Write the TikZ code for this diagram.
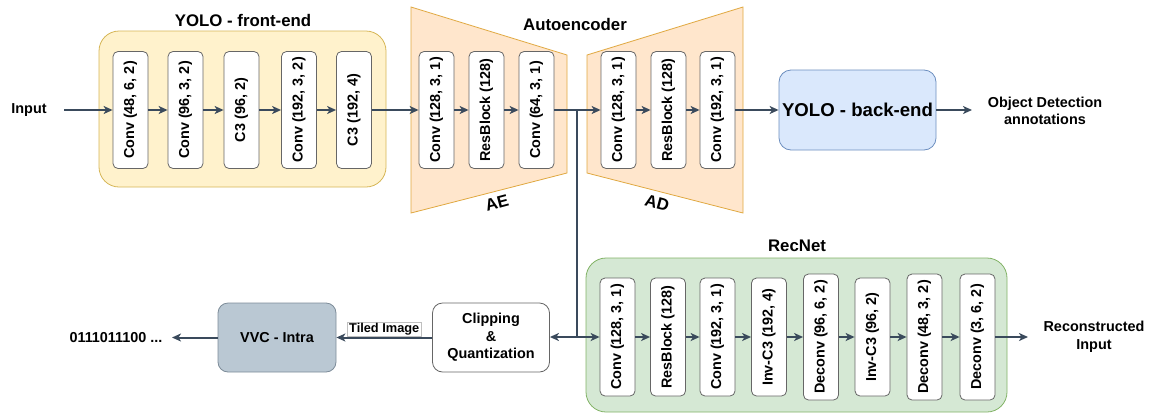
\documentclass[tikz,border=0pt]{standalone}
\usepackage{fontspec}
\usepackage{graphicx}
\setmainfont{Liberation Sans}
\usetikzlibrary{arrows.meta}

\definecolor{lineC}{HTML}{3A4A5C}
\definecolor{blkBorder}{HTML}{666666}
\definecolor{feFill}{HTML}{FFF2CC}
\definecolor{feDraw}{HTML}{D6B656}
\definecolor{aeFill}{HTML}{FFE6CC}
\definecolor{aeDraw}{HTML}{E0A840}
\definecolor{rnFill}{HTML}{D5E8D4}
\definecolor{rnDraw}{HTML}{82B366}
\definecolor{beFill}{HTML}{DAE8FC}
\definecolor{beDraw}{HTML}{6C8EBF}
\definecolor{vvcFill}{HTML}{BAC8D3}
\definecolor{vvcDraw}{HTML}{7D8C99}

\tikzset{
  blk/.style={draw=blkBorder, line width=0.8pt, fill=white, rounded corners=5pt,
    minimum width=35pt, minimum height=117pt, inner sep=0pt,
    font=\bfseries\fontsize{14.4}{17}\selectfont},
  tallblk/.style={blk, minimum height=126pt},
  lbl/.style={font=\bfseries\fontsize{14.4}{17.5}\selectfont, align=center, inner sep=0pt},
  ttl/.style={font=\bfseries\fontsize{16.8}{20}\selectfont, inner sep=0pt},
  group/.style={line width=0.8pt, rounded corners=20pt},
  flow/.style={draw=lineC, line width=2pt, -{Stealth[length=9pt,width=8pt,inset=2.5pt]}},
  twoway/.style={draw=lineC, line width=2pt, {Stealth[length=9pt,width=8pt,inset=2.5pt]}-{Stealth[length=9pt,width=8pt,inset=2.5pt]}},
  wire/.style={draw=lineC, line width=2pt},
  procbox/.style={line width=0.8pt, rounded corners=10pt, minimum width=117pt,
    minimum height=69pt, align=center, inner sep=0pt,
    font=\bfseries\fontsize{14.4}{17.5}\selectfont},
}

\begin{document}
\begin{tikzpicture}[x=1pt, y=-1pt]
\useasboundingbox (0,0) rectangle (1151,413);

% ---------- group backgrounds ----------
\draw[group, fill=feFill, draw=feDraw] (99,31) rectangle (386,187);
\draw[group, fill=rnFill, draw=rnDraw] (586,258) rectangle (1007,412);
\draw[fill=aeFill, draw=aeDraw, line width=0.8pt] (411,7) -- (567,55) -- (567,173) -- (411,213) -- cycle;
\draw[fill=aeFill, draw=aeDraw, line width=0.8pt] (587,55) -- (743,7) -- (743,213) -- (587,173) -- cycle;

% ---------- titles ----------
\node[ttl] (tfe) at (243,20) {YOLO - front-end};
\node[ttl] (tae) at (575,24) {Autoencoder};
\node[ttl] (trn) at (797,246) {RecNet};
\node[ttl, rotate=15] (lae) at (497,203) {AE};
\node[ttl, rotate=-15] (lad) at (657,203) {AD};

% ---------- YOLO front-end ----------
\node[blk] (f1) at (130.5,110) {\rotatebox{90}{Conv (48, 6, 2)}};
\node[blk] (f2) at (185.5,110) {\rotatebox{90}{Conv (96, 3, 2)}};
\node[blk] (f3) at (241.5,110) {\rotatebox{90}{C3 (96, 2)}};
\node[blk] (f4) at (299,110) {\rotatebox{90}{Conv (192, 3, 2)}};
\node[blk] (f5) at (354,110) {\rotatebox{90}{C3 (192, 4)}};

% ---------- autoencoder ----------
\node[blk] (e1) at (436.5,110) {\rotatebox{90}{Conv (128, 3, 1)}};
\node[blk] (e2) at (486.5,110) {\rotatebox{90}{ResBlock (128)}};
\node[blk] (e3) at (536.5,110) {\rotatebox{90}{Conv (64, 3, 1)}};
\node[blk] (d1) at (618.5,110) {\rotatebox{90}{Conv (128, 3, 1)}};
\node[blk] (d2) at (668.5,110) {\rotatebox{90}{ResBlock (128)}};
\node[blk] (d3) at (717.5,110) {\rotatebox{90}{Conv (192, 3, 1)}};

% ---------- YOLO back-end ----------
\node[draw=beDraw, fill=beFill, line width=0.8pt, rounded corners=12pt,
      minimum width=157pt, minimum height=80pt, inner sep=0pt,
      font=\bfseries\fontsize{18.6}{22}\selectfont] (be) at (857.5,110) {YOLO - back-end};
\node[lbl] (od) at (1045,111) {Object Detection\\annotations};

% ---------- RecNet ----------
\node[blk, minimum height=118pt] (r1) at (617.5,337) {\rotatebox{90}{Conv (128, 3, 1)}};
\node[blk, minimum height=118pt] (r2) at (668,337) {\rotatebox{90}{ResBlock (128)}};
\node[blk, minimum height=118pt] (r3) at (717.5,337) {\rotatebox{90}{Conv (192, 3, 1)}};
\node[blk, minimum height=118pt] (r4) at (769,337) {\rotatebox{90}{Inv-C3 (192, 4)}};
\node[tallblk] (r5) at (821,337) {\rotatebox{90}{Deconv (96, 6, 2)}};
\node[blk, minimum height=118pt] (r6) at (872.5,337) {\rotatebox{90}{Inv-C3 (96, 2)}};
\node[tallblk] (r7) at (924.5,337) {\rotatebox{90}{Deconv (48, 3, 2)}};
\node[tallblk] (r8) at (977.5,337) {\rotatebox{90}{Deconv (3, 6, 2)}};
\node[lbl] (rin) at (1094,337) {Reconstructed\\Input};

% ---------- coding chain ----------
\node[procbox, draw=blkBorder, fill=white] (cq) at (491,337.5) {Clipping\\\&\\Quantization};
\node[procbox, draw=vvcDraw, fill=vvcFill, minimum width=118pt] (vvc) at (277,337.5) {VVC - Intra};
\node[lbl] (bits) at (116,338) {0111011100 ...};
\node[lbl] (inp) at (29,110) {Input};

% ---------- free ends and junctions ----------
\coordinate (inS) at (64,110);
\coordinate (odE) at (972,110);
\coordinate (rinE) at (1028,337);
\coordinate (bitsE) at (172,337.5);
\coordinate (j1) at (577,110);
\coordinate (j2) at (577,337);

% ---------- connectors ----------
\draw[flow] (inS) -- (f1.west);
\draw[flow] (f1) -- (f2);
\draw[flow] (f2) -- (f3);
\draw[flow] (f3) -- (f4);
\draw[flow] (f4) -- (f5);
\draw[flow] (f5) -- (e1);
\draw[flow] (e1) -- (e2);
\draw[flow] (e2) -- (e3);
\draw[flow] (e3) -- (d1);
\draw[flow] (d1) -- (d2);
\draw[flow] (d2) -- (d3);
\draw[flow] (d3) -- (be);
\draw[flow] (be.east) -- (odE);

\draw[wire] (j1) -- (j2);
\draw[twoway] (cq.east |- j2) -- (r1.west);

\draw[flow] (r1) -- (r2);
\draw[flow] (r2) -- (r3);
\draw[flow] (r3) -- (r4);
\draw[flow] (r4) -- (r5);
\draw[flow] (r5) -- (r6);
\draw[flow] (r6) -- (r7);
\draw[flow] (r7) -- (r8);
\draw[flow] (r8.east) -- (rinE);

\draw[flow] (cq) -- node[above=1pt, fill=white, draw=black!25, line width=0.5pt,
      inner xsep=1.5pt, inner ysep=1pt, font=\bfseries\fontsize{12.8}{14}\selectfont] (tiled) {Tiled Image} (vvc);
\draw[flow] (vvc.west) -- (bitsE);
\end{tikzpicture}
\end{document}
